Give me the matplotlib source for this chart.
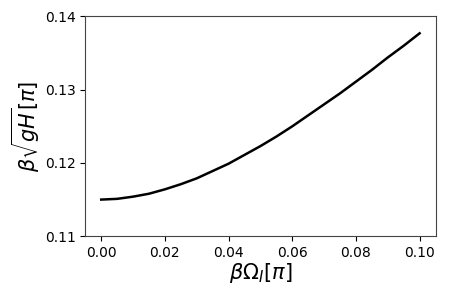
import matplotlib
matplotlib.use("Agg")
import matplotlib.pyplot as plt

# values
omega = [0.0, 0.005, 0.01, 0.015, 0.02, 0.025, 0.03, 0.035, 0.04, 0.045, 0.05,
         0.055, 0.06, 0.065, 0.07, 0.075, 0.08, 0.085, 0.09, 0.095, 0.10]
speed = [0.1150, 0.1151, 0.1154, 0.1158, 0.1164, 0.1171, 0.1179, 0.1189, 0.1199,
         0.1211, 0.1223, 0.1236, 0.1250, 0.1265, 0.1280, 0.1295, 0.1311, 0.1327,
         0.1344, 0.1360, 0.1377]

fig = plt.figure(figsize=(4.49, 2.99), dpi=100)
ax = fig.add_axes([0.19, 0.21, 0.78, 0.735])
ax.plot(omega, speed, color="black", linewidth=1.8)
ax.set_ylim(0.11, 0.14)
ax.set_yticks([0.11, 0.12, 0.13, 0.14])
ax.set_xticks([0.0, 0.02, 0.04, 0.06, 0.08, 0.10])
ax.tick_params(labelsize=10)
ax.set_xlabel(r"$\beta\Omega_I[\pi]$", fontsize=15, labelpad=1)
ax.set_ylabel(r"$\beta\sqrt{gH}[\pi]$", fontsize=15, labelpad=2)
for s in ax.spines.values():
    s.set_color("#444444")

fig.savefig("out.png", dpi=100)
